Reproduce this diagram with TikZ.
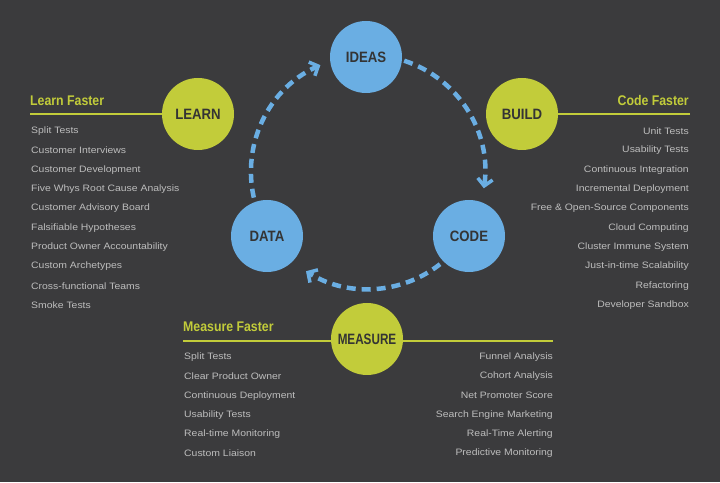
\documentclass[tikz,border=0pt]{standalone}
\usepackage{fontspec}
\setmainfont{Liberation Sans}
\usetikzlibrary{arrows.meta}
\definecolor{bg}{HTML}{3B3B3D}
\definecolor{grn}{HTML}{C2CC3A}
\definecolor{blu}{HTML}{6AAEE3}
\definecolor{dk}{HTML}{343434}
\definecolor{itm}{HTML}{BDBDBD}
\newcommand{\cnd}[1]{\scalebox{0.88}[1]{#1}}
\newcommand{\wid}[1]{\scalebox{1.12}[1]{#1}}
\begin{document}
\begin{tikzpicture}[x=1pt,y=1pt,
  stage/.style={circle,minimum size=72pt,inner sep=0pt,text=dk,font=\bfseries\fontsize{15}{15}\selectfont},
  g/.style={stage,fill=grn},
  b/.style={stage,fill=blu},
  head/.style={text=grn,font=\bfseries\fontsize{14}{14}\selectfont,inner sep=0pt},
  item/.style={text=itm,font=\fontsize{9.3}{9.3}\selectfont,inner sep=0pt},
  rule/.style={grn,line width=1.6pt},
  loop/.style={blu,line width=4.5pt,dash pattern=on 9pt off 6pt,-{Straight Barb[length=7pt,width=15pt,line width=3.5pt]}}]
\fill[bg] (0,0) rectangle (720,482);
\useasboundingbox (0,0) rectangle (720,482);
% rules
\coordinate (l1) at (30,368); \coordinate (r1) at (690,368);
\coordinate (m1) at (183,141); \coordinate (m2) at (553,141);
\draw[rule] (l1) -- (198,368);
\draw[rule] (r1) -- (522,368);
\draw[rule] (m1) -- (m2);
% circles
\node[b] (ideas) at (366,425) {\cnd{IDEAS}};
\node[g] (learn) at (198,368) {\cnd{LEARN}};
\node[g] (build) at (522,368) {\cnd{BUILD}};
\node[b] (data) at (267,246) {\cnd{DATA}};
\node[b] (code) at (469,246) {\cnd{CODE}};
\node[g] (measure) at (367,143) {\scalebox{0.78}[1]{MEASURE}};
% loop
\draw[loop] (368,310) ++(200:117) arc (200:114:117);
\draw[loop] (368,310) ++(72:117) arc (72:-8:117);
\draw[loop] (368,310) ++(-52:117) arc (-52:-122:117);
% headings
\node[head,anchor=base west] (hl) at (30,376) {\cnd{Learn Faster}};
\node[head,anchor=base east] (hr) at (689,376) {\cnd{Code Faster}};
\node[head,anchor=base west] (hm) at (183,150) {\cnd{Measure Faster}};
% items
\foreach \t [count=\i] in {Split Tests,Customer Interviews,Customer Development,Five Whys Root Cause Analysis,Customer Advisory Board,Falsifiable Hypotheses,Product Owner Accountability,Custom Archetypes,Cross-functional Teams,Smoke Tests}
  \node[item,anchor=west] (li\i) at (31,482-131-19.35*\i+19.35) {\wid{\t}};
\foreach \t [count=\i] in {Unit Tests,Usability Tests,Continuous Integration,Incremental Deployment,Free \& Open-Source Components,Cloud Computing,Cluster Immune System,Just-in-time Scalability,Refactoring,Developer Sandbox}
  \node[item,anchor=east] (ri\i) at (689,482-131-19.35*\i+19.35) {\wid{\t}};
\foreach \t [count=\i] in {Split Tests,Clear Product Owner,Continuous Deployment,Usability Tests,Real-time Monitoring,Custom Liaison}
  \node[item,anchor=west] (mi\i) at (184,482-357-19.3*\i+19.3) {\wid{\t}};
\foreach \t [count=\i] in {Funnel Analysis,Cohort Analysis,Net Promoter Score,Search Engine Marketing,Real-Time Alerting,Predictive Monitoring}
  \node[item,anchor=east] (mr\i) at (553,482-357-19.3*\i+19.3) {\wid{\t}};
\end{tikzpicture}
\end{document}
